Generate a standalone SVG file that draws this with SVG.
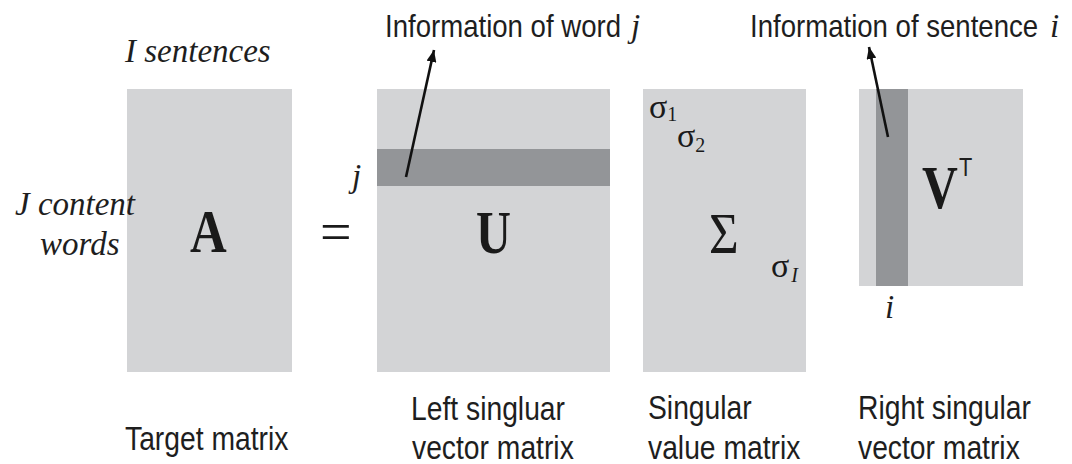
<svg xmlns="http://www.w3.org/2000/svg" width="1072" height="464" viewBox="0 0 1072 464">
<defs>
<marker id="ah" viewBox="0 0 12 10" refX="12" refY="5" markerWidth="12" markerHeight="10" markerUnits="userSpaceOnUse" orient="auto">
<path d="M0,0 L12,5 L0,10 Z" fill="#111"/>
</marker>
<style>
.box{fill:#d3d4d6}
.band{fill:#939598}
.sans{font-family:"Liberation Sans",Arial,sans-serif;fill:#1e1e1e}
.lab{font-size:32.5px}
.top{font-size:31.7px}
.it{font-family:"Liberation Serif","Times New Roman",serif;font-style:italic;fill:#1e1e1e;font-size:33px}
.big{font-family:"Liberation Serif","Times New Roman",serif;font-weight:bold;fill:#1a1a1a;font-size:62px}
.ser{font-family:"Liberation Serif","Times New Roman",serif;fill:#1a1a1a}
.conn{stroke:#111;stroke-width:2.6;fill:none;marker-end:url(#ah)}
</style>
</defs>
<rect width="1072" height="464" fill="#ffffff"/>

<g id="matrixA">
<rect class="box" x="127" y="89" width="165" height="283"/>
<text class="big" transform="translate(190,252) scale(0.82,1)">A</text>
<text class="it" x="125" y="62">I sentences</text>
<text class="it" x="15" y="215">J content</text>
<text class="it" x="40" y="255">words</text>
<text class="sans lab" transform="translate(125,450) scale(0.87,1)">Target matrix</text>
</g>

<g id="equals">
<text class="ser" x="320" y="251" font-size="56">=</text>
</g>

<g id="matrixU">
<rect class="box" x="377" y="89" width="233" height="283"/>
<rect class="band" x="377" y="149" width="233" height="37"/>
<text class="big" transform="translate(476,253) scale(0.78,1)">U</text>
<text class="it" x="352" y="187" font-size="34">j</text>
<text class="sans lab" transform="translate(411,420) scale(0.87,1)">Left singluar</text>
<text class="sans lab" transform="translate(412,459) scale(0.87,1)">vector matrix</text>
</g>

<g id="matrixSigma">
<rect class="box" x="643" y="89" width="163" height="283"/>
<text class="ser" x="649" y="118" font-size="34">σ<tspan font-size="20" dy="3">1</tspan></text>
<text class="ser" x="677" y="147" font-size="34">σ<tspan font-size="20" dy="5">2</tspan></text>
<text class="ser" font-size="58" transform="translate(709,253) scale(0.88,1)">Σ</text>
<text class="ser" x="771" y="277" font-size="34">σ<tspan font-size="20" font-style="italic" dx="2" dy="5">I</tspan></text>
<text class="sans lab" transform="translate(648,419) scale(0.87,1)">Singular</text>
<text class="sans lab" transform="translate(648,459) scale(0.87,1)">value matrix</text>
</g>

<g id="matrixVT">
<rect class="box" x="859" y="89" width="164" height="197"/>
<rect class="band" x="876" y="89" width="32" height="197"/>
<text class="big" transform="translate(922,208) scale(0.8,1)">V</text>
<text class="sans" font-size="25" transform="translate(959,176) scale(0.87,1)">T</text>
<text class="it" x="885" y="318">i</text>
<text class="sans lab" transform="translate(858,419) scale(0.87,1)">Right singular</text>
<text class="sans lab" transform="translate(858,459) scale(0.87,1)">vector matrix</text>
</g>

<g id="labelWord">
<text class="sans top" transform="translate(385,37) scale(0.87,1)">Information of word</text>
<text class="it" x="631" y="37">j</text>
</g>

<g id="labelSentence">
<text class="sans top" transform="translate(750,37) scale(0.87,1)">Information of sentence</text>
<text class="it" x="1050" y="37">i</text>
</g>

<g id="connectors">
<path class="conn" d="M406,177 L434,50"/>
<path class="conn" d="M888,137 L869,47"/>
</g>
</svg>
